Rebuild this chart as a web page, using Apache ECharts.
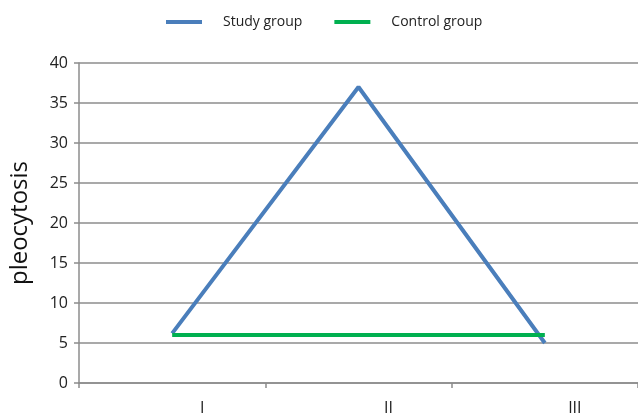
<!DOCTYPE html>
<html>
<head>
<meta charset="utf-8">
<script src="https://cdn.jsdelivr.net/npm/echarts@6/dist/echarts.min.js"></script>
<style>html,body{margin:0;padding:0;background:#fff}#c{width:638px;height:417px}</style>
</head>
<body>
<div id="c"></div>
<script>
const categories = ['I', 'II', 'III'];
const studyGroup = [6.2, 37, 5];
const controlGroup = [6, 6, 6];
const yTicks = [0, 5, 10, 15, 20, 25, 30, 35, 40];

const chart = echarts.init(document.getElementById('c'));
chart.setOption({
  animation: false,
  textStyle: { fontFamily: 'Open Sans' },
  legend: {
    top: 10,
    left: 161,
    itemWidth: 36,
    itemHeight: 4,
    itemGap: 32,
    icon: 'rect',
    textStyle: { fontSize: 14, color: '#222', padding: [0, 0, 0, 16], fontFamily: 'Open Sans' },
    data: ['Study group', 'Control group']
  },
  grid: { left: 78, right: -2, top: 63, bottom: 34 },
  xAxis: {
    type: 'category',
    data: categories,
    boundaryGap: true,
    axisLine: { lineStyle: { color: '#8c8c8c', width: 1.5 } },
    axisTick: { show: true, length: 5, lineStyle: { color: '#8c8c8c', width: 1.5 } },
    axisLabel: { fontSize: 16, color: '#222', margin: 17, padding: [0, 0, 0, 60], fontFamily: 'Open Sans' }
  },
  yAxis: {
    type: 'value',
    min: 0, max: 40, interval: 5,
    name: 'pleocytosis',
    nameLocation: 'middle',
    nameGap: 47,
    nameTextStyle: { fontSize: 24, color: '#111', fontFamily: 'Open Sans' },
    axisLine: { show: true, lineStyle: { color: '#8c8c8c', width: 1.5 } },
    axisTick: { show: true, length: 5, lineStyle: { color: '#8c8c8c', width: 1.5 } },
    axisLabel: {
      fontSize: 16, color: '#222', margin: 11, fontFamily: 'Open Sans',
      formatter: v => yTicks.includes(v) ? String(v) : ''
    },
    splitLine: { lineStyle: { color: '#8c8c8c', width: 1.5 } }
  },
  series: [
    { name: 'Study group', type: 'line', data: studyGroup, showSymbol: false, symbol: 'none',
      itemStyle: { color: '#4a7ebb' }, lineStyle: { color: '#4a7ebb', width: 4 } },
    { name: 'Control group', type: 'line', data: controlGroup, showSymbol: false, symbol: 'none',
      itemStyle: { color: '#00b050' }, lineStyle: { color: '#00b050', width: 4 } }
  ]
});
</script>
</body>
</html>
